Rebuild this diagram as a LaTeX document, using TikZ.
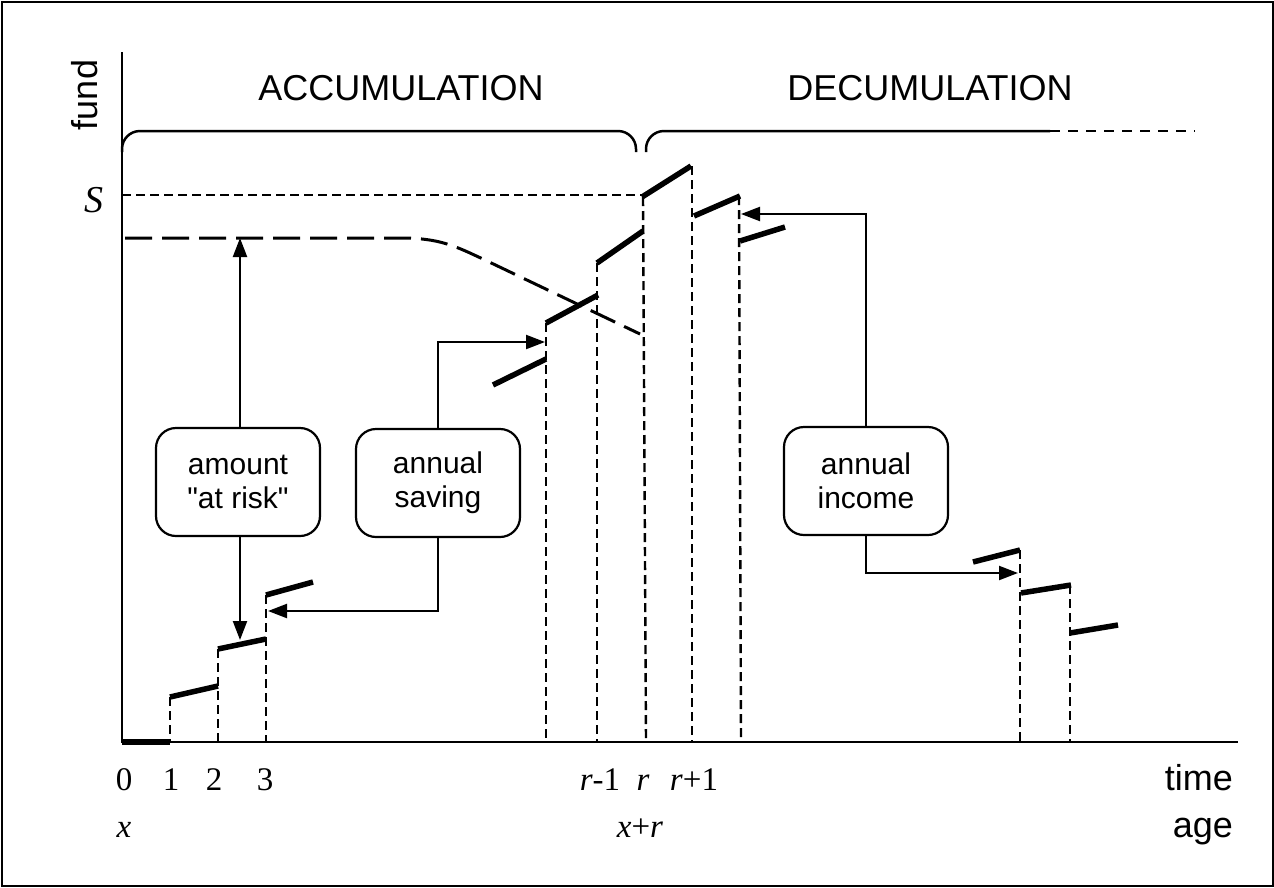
\documentclass[tikz,border=0pt]{standalone}
\usepackage{fontspec}
\setmainfont{Liberation Serif}
\setsansfont{Liberation Sans}
\usetikzlibrary{arrows.meta}

\begin{document}
\begin{tikzpicture}[x=1pt,y=-1pt,
  fundstep/.style={line width=5.5pt},
  guide/.style={line width=2.4pt, dash pattern=on 9pt off 5pt},
  riskcurve/.style={line width=3pt, dash pattern=on 27pt off 10pt},
  callout/.style={draw, line width=2.2pt, rounded corners=20pt,
    minimum width=164pt, minimum height=108pt, inner sep=0pt,
    align=center, font=\sffamily\fontsize{30}{34}\selectfont},
  pointer/.style={line width=2.2pt, -{Triangle[length=19pt,width=14pt]}},
  bracket/.style={line width=2.5pt, rounded corners=18pt},
  phase/.style={font=\sffamily\fontsize{36}{40}\selectfont, inner sep=0pt},
  tick/.style={font=\fontsize{33}{36}\selectfont, anchor=base, inner sep=0pt}]

\useasboundingbox (0,0) rectangle (1274,887);
\draw[line width=2pt] (1.5,1.5) rectangle (1272.5,885.5);

% axes
\coordinate (ytop) at (122,52);
\coordinate (origin) at (122,742);
\coordinate (xend) at (1238,742);
\draw[line width=2.8pt] (ytop) -- (origin) -- (xend);
\node[phase, rotate=90, anchor=base] (fund) at (97,95) {fund};
\node[font=\itshape\fontsize{38}{40}\selectfont, anchor=base, inner sep=0pt] (S) at (94,212) {S};

% phase labels and brackets
\node[phase] (acc) at (401,88) {ACCUMULATION};
\node[phase] (dec) at (930,88) {DECUMULATION};
\draw[bracket] (122,152) -- (122,131) -- (636,131) -- (636,152);
\draw[bracket] (646,152) -- (646,131) -- (1050,131);
\draw[line width=2.2pt, dash pattern=on 10pt off 8pt] (1050,131) -- (1195,131);

% level S
\draw[guide] (122,195) -- (642,195);

% amount at risk (dashed curve)
\coordinate (riskTop) at (240,238);
\draw[riskcurve] (125,238) -- (400,238) .. controls (440,238) and (455,246) .. (485,260) -- (640,334);

% fund growth within each year
\draw[fundstep] (122,742) -- (170,742);
\draw[fundstep] (170,697) -- (218,686);
\draw[fundstep] (218,649) -- (266,639);
\draw[fundstep] (266,595) -- (313,582);
\draw[fundstep] (493,385) -- (546,359);
\draw[fundstep] (546,323) -- (598,295);
\draw[fundstep] (597,263) -- (643,231);
\draw[fundstep] (642,197) -- (691,166);
\draw[fundstep] (694,216) -- (740,196);
\draw[fundstep] (740,241) -- (785,227);
\draw[fundstep] (973,562) -- (1020,550);
\draw[fundstep] (1021,593) -- (1071,585);
\draw[fundstep] (1070,633) -- (1118,625);

% year boundaries
\draw[guide] (170,697) -- (170,742);
\draw[guide] (218,649) -- (218,742);
\draw[guide] (266,595) -- (266,742);
\draw[guide] (546,323) -- (546,742);
\draw[guide] (597,263) -- (597,742);
\draw[guide] (643,197) -- (646,742);
\draw[guide] (692,166) -- (692,742);
\draw[guide] (739,196) -- (741,742);
\draw[guide] (1020,550) -- (1020,742);
\draw[guide] (1070,585) -- (1070,742);

% axis labels
\node[tick] (t0) at (124,790) {0};
\node[tick] (t1) at (171,790) {1};
\node[tick] (t2) at (214,790) {2};
\node[tick] (t3) at (265,790) {3};
\node[tick] (trm) at (600,790) {\textit{r}-1};
\node[tick] (tr) at (643,790) {\textit{r}};
\node[tick] (trp) at (694,790) {\textit{r}+1};
\node[tick] (ax) at (124,837) {\textit{x}};
\node[tick] (axr) at (640,837) {\textit{x}+\textit{r}};
\node[phase, anchor=base east] (time) at (1233,790) {time};
\node[phase, anchor=base east] (age) at (1233,837) {age};

% call-outs
\node[callout] (risk) at (238,482) {amount\\\textquotedbl at risk\textquotedbl};
\node[callout] (save) at (438,483) {annual\\saving};
\node[callout] (inc) at (866,481) {annual\\income};

\coordinate (riskLow) at (240,640);
\coordinate (saveTip) at (545,342);
\coordinate (saveLow) at (268,611);
\coordinate (incTip) at (741,214);
\coordinate (incLow) at (1018,573);

\draw[pointer] (risk.north -| riskTop) -- (riskTop);
\draw[pointer] (risk.south -| riskLow) -- (riskLow);
\draw[pointer] (save.north) |- (saveTip);
\draw[pointer] (save.south) |- (saveLow);
\draw[pointer] (inc.north) |- (incTip);
\draw[pointer] (inc.south) |- (incLow);
\end{tikzpicture}
\end{document}
